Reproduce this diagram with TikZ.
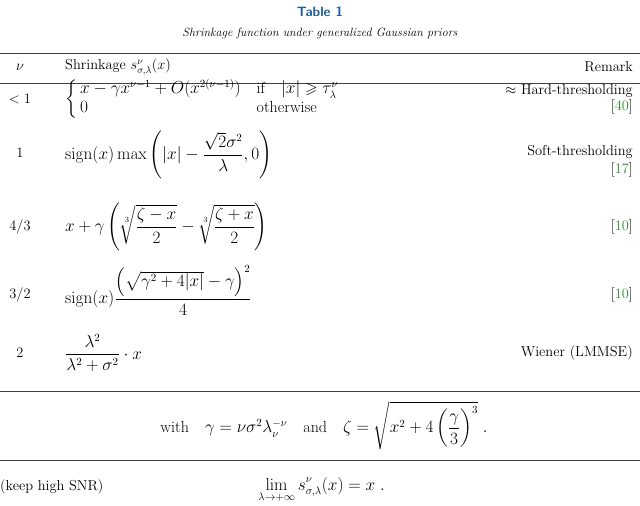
\documentclass[tikz,border=0pt]{standalone}
\usepackage{amsmath,amssymb}
\definecolor{tblue}{HTML}{1F5C99}
\definecolor{cgreen}{HTML}{2E8B2E}
\newcommand{\cit}[1]{[\textcolor{cgreen}{#1}]}
\begin{document}
\begin{tikzpicture}[x=1pt,y=-1pt,
  txt/.style={inner sep=0pt,font=\fontsize{14.4}{17}\selectfont},
  mth/.style={inner sep=0pt,font=\fontsize{16}{19}\selectfont},
  rl/.style={line width=0.9pt,draw=black!75}]
\useasboundingbox (0,0) rectangle (640,506);
\node[txt,text=tblue,font=\sffamily\bfseries\fontsize{13.5}{16}\selectfont] (t1) at (320,12) {Table 1};
\node[txt,font=\itshape\fontsize{12}{14}\selectfont] (t2) at (320,33) {Shrinkage function under generalized Gaussian priors};
\coordinate (r1a) at (0,53); \coordinate (r1b) at (640,53);
\draw[rl] (r1a) -- (r1b);
\node[txt] (hnu) at (20,67) {$\nu$};
\node[txt,anchor=west] (hs) at (65,67) {Shrinkage $s^{\nu}_{\sigma,\lambda}(x)$};
\node[txt,anchor=east] (hr) at (633,67) {Remark};
\coordinate (r2a) at (0,83); \coordinate (r2b) at (640,83);
\draw[rl] (r2a) -- (r2b);
% row 1
\node[txt] (n1) at (20,99) {$<1$};
\node[mth,anchor=west] (s1) at (65,99) {$\left\{\begin{array}{@{\,}l@{\quad}l@{}} x-\gamma x^{\nu-1}+O(x^{2(\nu-1)}) & \text{if}\quad |x|\geqslant\tau^{\nu}_{\lambda}\\ 0 & \text{otherwise}\end{array}\right.$};
\node[txt,anchor=east] (m1a) at (633,91) {$\approx$ Hard-thresholding};
\node[txt,anchor=east] (m1b) at (633,107) {\cit{40}};
% row 2
\node[txt] (n2) at (20,153) {$1$};
\node[mth,anchor=west] (s2) at (65,155) {$\operatorname{sign}(x)\max\left(|x|-\dfrac{\sqrt{2}\sigma^2}{\lambda},0\right)$};
\node[txt,anchor=east] (m2a) at (633,152) {Soft-thresholding};
\node[txt,anchor=east] (m2b) at (633,170) {\cit{17}};
% row 3
\node[txt] (n3) at (20,227) {$4/3$};
\node[mth,anchor=west] (s3) at (65,227) {$x+\gamma\left(\sqrt[3]{\dfrac{\zeta-x}{2}}-\sqrt[3]{\dfrac{\zeta+x}{2}}\right)$};
\node[txt,anchor=east] (m3) at (633,227) {\cit{10}};
% row 4
\node[txt] (n4) at (20,295) {$3/2$};
\node[mth,anchor=west] (s4) at (65,290) {$\operatorname{sign}(x)\dfrac{\left(\sqrt{\gamma^2+4|x|}-\gamma\right)^2}{4}$};
\node[txt,anchor=east] (m4) at (633,295) {\cit{10}};
% row 5
\node[txt] (n5) at (20,353) {$2$};
\node[mth,anchor=west] (s5) at (65,353) {$\dfrac{\lambda^2}{\lambda^2+\sigma^2}\cdot x$};
\node[txt,anchor=east] (m5) at (633,353) {Wiener (LMMSE)};
\coordinate (r3a) at (0,391); \coordinate (r3b) at (640,391);
\draw[rl] (r3a) -- (r3b);
\node[mth] (w) at (324,426) {with\quad $\gamma=\nu\sigma^2\lambda_{\nu}^{-\nu}$\quad and\quad $\zeta=\sqrt{x^2+4\left(\dfrac{\gamma}{3}\right)^3}\ .$};
\coordinate (r4a) at (0,460); \coordinate (r4b) at (640,460);
\draw[rl] (r4a) -- (r4b);
\node[txt,anchor=west] (k) at (0,487) {(keep high SNR)};
\node[mth,anchor=west] (l) at (258,490) {$\displaystyle\lim_{\lambda\to+\infty} s^{\nu}_{\sigma,\lambda}(x)=x\ .$};
\end{tikzpicture}
\end{document}
